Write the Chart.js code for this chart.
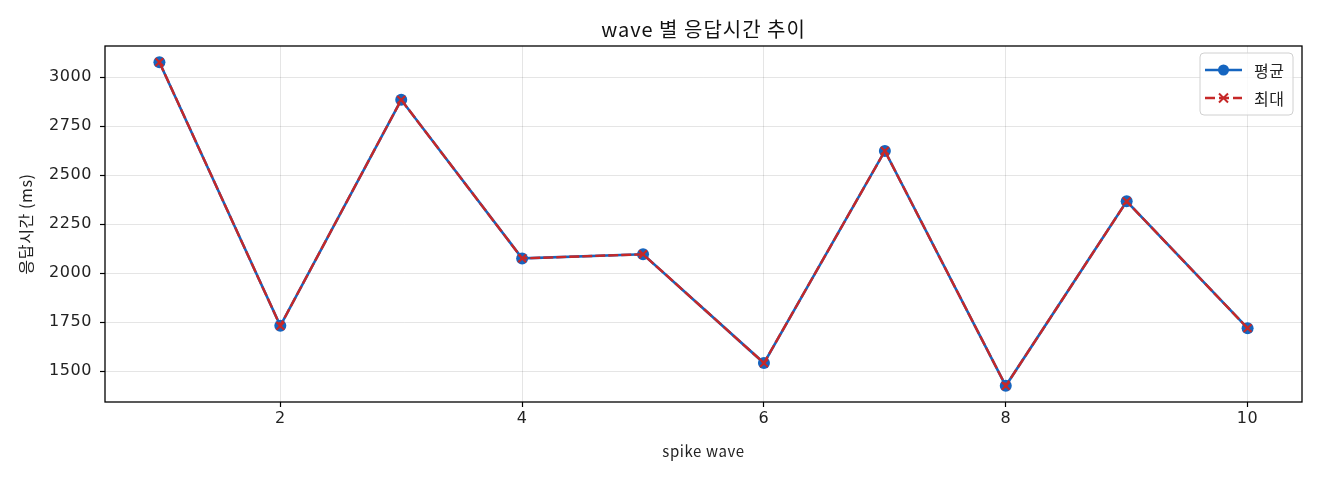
<!DOCTYPE html>
<html>
<head>
<meta charset="utf-8">
<script src="https://cdn.jsdelivr.net/npm/chart.js@4"></script>
<style>
  html, body { margin: 0; padding: 0; background: #fff; }
  #wrap { width: 1320px; height: 480px; }
</style>
</head>
<body>
<div id="wrap"><canvas id="chart" width="1320" height="480"></canvas></div>
<script>
// data
const waves = [1, 2, 3, 4, 5, 6, 7, 8, 9, 10];
const avgMs = [3076, 1731, 2884, 2075, 2096, 1541, 2623, 1425, 2366, 1719];
const maxMs = [3076, 1731, 2884, 2075, 2096, 1541, 2623, 1425, 2366, 1719];
const xTicks = [2, 4, 6, 8, 10];
const yTicks = [1500, 1750, 2000, 2250, 2500, 2750, 3000];
const chartTitle = "wave 별 응답시간 추이";

const BLUE = "#1565C0";
const RED = "#C62828";
const LABEL_FONT = "'Noto Sans CJK KR', 'DejaVu Sans', sans-serif";
const TICK_FONT = "'DejaVu Sans', 'Noto Sans CJK KR', sans-serif";

// slightly wider text, the reference font runs wide
const spacingPlugin = {
  id: "spacing",
  beforeDraw(chart) {
    chart.ctx.letterSpacing = "0.6px";
  }
};

// frame around the plot area, title over the plot and the legend box
const framePlugin = {
  id: "frame",
  afterDraw(chart) {
    const { ctx, chartArea } = chart;
    ctx.save();
    ctx.strokeStyle = "#000";
    ctx.lineWidth = 1.3;
    ctx.strokeRect(chartArea.left, chartArea.top, chartArea.right - chartArea.left, chartArea.bottom - chartArea.top);

    // title, centred on the plot area
    ctx.fillStyle = "#111";
    ctx.font = "20px " + LABEL_FONT;
    ctx.letterSpacing = "1px";
    ctx.textAlign = "center";
    ctx.textBaseline = "middle";
    ctx.fillText(chartTitle, (chartArea.left + chartArea.right) / 2, 29);
    ctx.letterSpacing = "0.5px";

    // legend
    const bx = 1200, by = 53, bw = 93, bh = 62;
    ctx.beginPath();
    ctx.roundRect(bx, by, bw, bh, 4);
    ctx.fillStyle = "rgba(255,255,255,0.8)";
    ctx.fill();
    ctx.strokeStyle = "#d0d0d0";
    ctx.lineWidth = 1;
    ctx.stroke();

    const rows = [
      { label: "평균", color: BLUE, dash: [], marker: "circle", y: 70 },
      { label: "최대", color: RED, dash: [10, 4], marker: "x", y: 98 }
    ];
    rows.forEach(r => {
      ctx.beginPath();
      ctx.setLineDash(r.dash);
      ctx.strokeStyle = r.color;
      ctx.lineWidth = 2.5;
      ctx.moveTo(1205, r.y);
      ctx.lineTo(1242, r.y);
      ctx.stroke();
      ctx.setLineDash([]);
      if (r.marker === "circle") {
        ctx.beginPath();
        ctx.arc(1223.5, r.y, 5.5, 0, Math.PI * 2);
        ctx.fillStyle = r.color;
        ctx.fill();
      } else {
        ctx.beginPath();
        ctx.lineWidth = 2;
        ctx.moveTo(1219, r.y - 4.5); ctx.lineTo(1228, r.y + 4.5);
        ctx.moveTo(1219, r.y + 4.5); ctx.lineTo(1228, r.y - 4.5);
        ctx.stroke();
      }
      ctx.fillStyle = "#222";
      ctx.font = "16px " + LABEL_FONT;
      ctx.textAlign = "left";
      ctx.textBaseline = "middle";
      ctx.fillText(r.label, 1254, r.y + 1);
    });
    ctx.restore();
  }
};

new Chart(document.getElementById("chart"), {
  type: "line",
  data: {
    datasets: [
      {
        label: "평균",
        data: waves.map((w, i) => ({ x: w, y: avgMs[i] })),
        borderColor: BLUE,
        backgroundColor: BLUE,
        borderWidth: 2.6,
        pointStyle: "circle",
        pointRadius: 6,
        pointBorderWidth: 0,
        pointBackgroundColor: BLUE,
        tension: 0,
        order: 2
      },
      {
        label: "최대",
        data: waves.map((w, i) => ({ x: w, y: maxMs[i] })),
        borderColor: RED,
        backgroundColor: RED,
        borderWidth: 2.4,
        borderDash: [10, 3],
        pointStyle: "crossRot",
        pointRadius: 5.5,
        pointBorderWidth: 2.2,
        pointBorderColor: RED,
        tension: 0,
        order: 1
      }
    ]
  },
  options: {
    responsive: false,
    animation: false,
    devicePixelRatio: 1,
    layout: { padding: { left: 0, right: 18, top: 46, bottom: 0 } },
    plugins: {
      legend: { display: false },
      tooltip: { enabled: false },
      title: { display: false }
    },
    scales: {
      x: {
        type: "linear",
        min: 0.55,
        max: 10.45,
        afterBuildTicks: s => { s.ticks = xTicks.map(v => ({ value: v })); },
        afterFit: s => { s.height = 78; },
        border: { display: false },
        grid: { color: "rgba(0,0,0,0.1)", lineWidth: 1, tickColor: "#000", tickLength: 5, tickWidth: 1.2 },
        ticks: { color: "#222", font: { family: TICK_FONT, size: 16 }, padding: 2, maxRotation: 0, callback: v => String(v) },
        title: {
          display: true,
          text: "spike wave",
          color: "#222",
          font: { family: LABEL_FONT, size: 15 },
          padding: { top: 0, bottom: 20 }
        }
      },
      y: {
        min: 1342.5,
        max: 3158.5,
        afterBuildTicks: s => { s.ticks = yTicks.map(v => ({ value: v })); },
        afterFit: s => { s.width = 105; },
        border: { display: false },
        grid: { color: "rgba(0,0,0,0.1)", lineWidth: 1, tickColor: "#000", tickLength: 5, tickWidth: 1.2 },
        ticks: { color: "#222", font: { family: TICK_FONT, size: 16 }, padding: 8, callback: v => String(v) },
        title: {
          display: true,
          text: "응답시간 (ms)",
          color: "#222",
          font: { family: LABEL_FONT, size: 16 },
          padding: { top: 16, bottom: 0 }
        }
      }
    }
  },
  plugins: [spacingPlugin, framePlugin]
});
</script>
</body>
</html>
